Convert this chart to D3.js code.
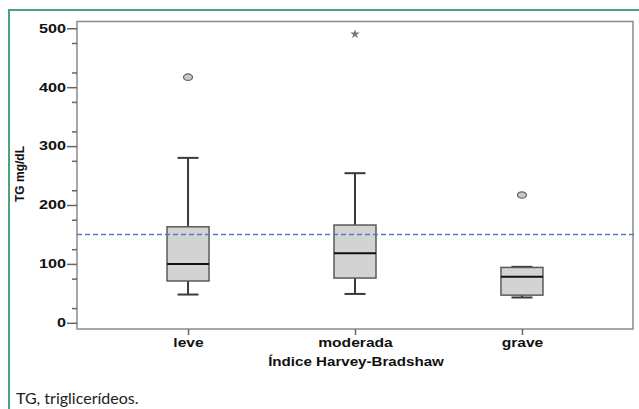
<!DOCTYPE html>
<html>
<head>
<meta charset="utf-8">
<script src="https://cdn.jsdelivr.net/npm/d3@7"></script>
<style>
  body { margin: 0; background: #fff; }
  svg { display: block; }
</style>
</head>
<body>
<div id="chart"></div>
<script>
// grupos do índice Harvey-Bradshaw
const categories = ['leve', 'moderada', 'grave'];
const whiskLow = [48, 49, 43];
const q1 = [71, 76, 47];
const medians = [100, 118, 78];
const q3 = [163, 166, 94];
const whiskHigh = [280, 254, 95];
// outliers: circle = moderate, star = extreme
const outliers = [
    { cat: 'leve', value: 417, type: 'circle' },
    { cat: 'moderada', value: 490, type: 'star' },
    { cat: 'grave', value: 217, type: 'circle' }
];
const yTicks = [0, 100, 200, 300, 400, 500];
const refLine = 150;

const width = 639;
const height = 409;
const plot = { left: 77, right: 633, top: 21.5, bottom: 329 };
const stretch = 1.3; // the original text looks stretched sideways

const svg = d3.select('#chart')
    .append('svg')
    .attr('width', width)
    .attr('height', height);

// widen the glyphs of a text selection
function widen(sel, f) {
    sel.each(function () {
        const len = this.getComputedTextLength();
        d3.select(this)
            .attr('textLength', len * f)
            .attr('lengthAdjust', 'spacingAndGlyphs');
    });
}

// green frame of the figure
svg.append('path')
    .attr('d', `M9,${height} V10 H${width}`)
    .attr('fill', 'none')
    .attr('stroke', '#4aa37a')
    .attr('stroke-width', 2);

const xScale = d3.scalePoint()
    .domain(categories)
    .range([plot.left, plot.right])
    .padding(0.665);

const yScale = d3.scaleLinear()
    .domain([-10.5, 511.5])
    .range([plot.bottom, plot.top]);

// plot frame
svg.append('rect')
    .attr('x', plot.left)
    .attr('y', plot.top)
    .attr('width', plot.right - plot.left)
    .attr('height', plot.bottom - plot.top)
    .attr('fill', 'none')
    .attr('stroke', '#8a8a8a')
    .attr('stroke-width', 1.5);

// y axis
const yAxis = svg.append('g')
    .attr('transform', `translate(${plot.left},0)`)
    .call(d3.axisLeft(yScale).tickValues(yTicks).tickSize(10).tickPadding(1).tickFormat(d3.format('d')));
yAxis.select('.domain').remove();
yAxis.selectAll('line').attr('stroke', '#666').attr('stroke-width', 1.5);
yAxis.selectAll('text')
    .attr('font-family', 'Liberation Sans, Arial, sans-serif')
    .attr('font-size', 12)
    .attr('font-weight', 'bold')
    .attr('fill', '#111')
    .call(widen, 1.35);

const minor = svg.append('g')
    .attr('transform', `translate(${plot.left},0)`)
    .call(d3.axisLeft(yScale).tickValues(d3.range(25, 500, 50)).tickSize(5).tickFormat(''));
minor.select('.domain').remove();
minor.selectAll('line').attr('stroke', '#666').attr('stroke-width', 1.5);

// x axis
const xAxis = svg.append('g')
    .attr('transform', `translate(0,${plot.bottom})`)
    .call(d3.axisBottom(xScale).tickSize(6).tickPadding(3));
xAxis.select('.domain').remove();
xAxis.selectAll('line').attr('stroke', '#666').attr('stroke-width', 1.5);
xAxis.selectAll('text')
    .attr('font-family', 'Liberation Sans, Arial, sans-serif')
    .attr('font-size', 12)
    .attr('font-weight', 'bold')
    .attr('fill', '#111')
    .call(widen, stretch);

svg.append('text')
    .attr('x', 356)
    .attr('y', 366)
    .attr('text-anchor', 'middle')
    .attr('font-family', 'Liberation Sans, Arial, sans-serif')
    .attr('font-size', 12)
    .attr('font-weight', 'bold')
    .attr('fill', '#111')
    .text('Índice Harvey-Bradshaw')
    .call(widen, 1.26);

svg.append('text')
    .attr('transform', 'translate(24,174) rotate(-90)')
    .attr('text-anchor', 'middle')
    .attr('font-family', 'Liberation Sans, Arial, sans-serif')
    .attr('font-size', 12)
    .attr('font-weight', 'bold')
    .attr('fill', '#111')
    .text('TG mg/dL');

// boxes
const boxW = 42;
const capW = 21;
const boxes = svg.append('g');
categories.forEach((c, i) => {
    const cx = xScale(c);
    const g = boxes.append('g');
    g.append('line')
        .attr('x1', cx).attr('x2', cx)
        .attr('y1', yScale(q3[i])).attr('y2', yScale(whiskHigh[i]))
        .attr('stroke', '#3a3a3a').attr('stroke-width', 2);
    g.append('line')
        .attr('x1', cx).attr('x2', cx)
        .attr('y1', yScale(q1[i])).attr('y2', yScale(whiskLow[i]))
        .attr('stroke', '#3a3a3a').attr('stroke-width', 2);
    [whiskHigh[i], whiskLow[i]].forEach(v => {
        g.append('line')
            .attr('x1', cx - capW / 2).attr('x2', cx + capW / 2)
            .attr('y1', yScale(v)).attr('y2', yScale(v))
            .attr('stroke', '#3a3a3a').attr('stroke-width', 2);
    });
    g.append('rect')
        .attr('x', cx - boxW / 2)
        .attr('y', yScale(q3[i]))
        .attr('width', boxW)
        .attr('height', yScale(q1[i]) - yScale(q3[i]))
        .attr('fill', '#d3d3d3')
        .attr('stroke', '#5a5a5a')
        .attr('stroke-width', 1.5);
    g.append('line')
        .attr('x1', cx - boxW / 2).attr('x2', cx + boxW / 2)
        .attr('y1', yScale(medians[i])).attr('y2', yScale(medians[i]))
        .attr('stroke', '#111').attr('stroke-width', 2);
});

// outliers
outliers.forEach(o => {
    const cx = xScale(o.cat);
    const cy = yScale(o.value);
    if (o.type === 'circle') {
        svg.append('ellipse')
            .attr('cx', cx).attr('cy', cy)
            .attr('rx', 4.5).attr('ry', 3.2)
            .attr('fill', '#c8c8c8')
            .attr('stroke', '#666')
            .attr('stroke-width', 1.3);
    } else {
        svg.append('path')
            .attr('d', d3.symbol(d3.symbolStar, 28)())
            .attr('transform', `translate(${cx},${cy})`)
            .attr('fill', '#777');
    }
});

// reference line at 150 mg/dL
svg.append('line')
    .attr('x1', plot.left).attr('x2', 636)
    .attr('y1', yScale(refLine)).attr('y2', yScale(refLine))
    .attr('stroke', '#4a7fc1')
    .attr('stroke-width', 1.5)
    .attr('stroke-dasharray', '5,3');

// caption
svg.append('text')
    .attr('x', 16)
    .attr('y', 404)
    .attr('font-family', 'Lato, Open Sans, sans-serif')
    .attr('font-size', 16)
    .attr('fill', '#222')
    .text('TG, triglicerídeos.');
</script>
</body>
</html>
